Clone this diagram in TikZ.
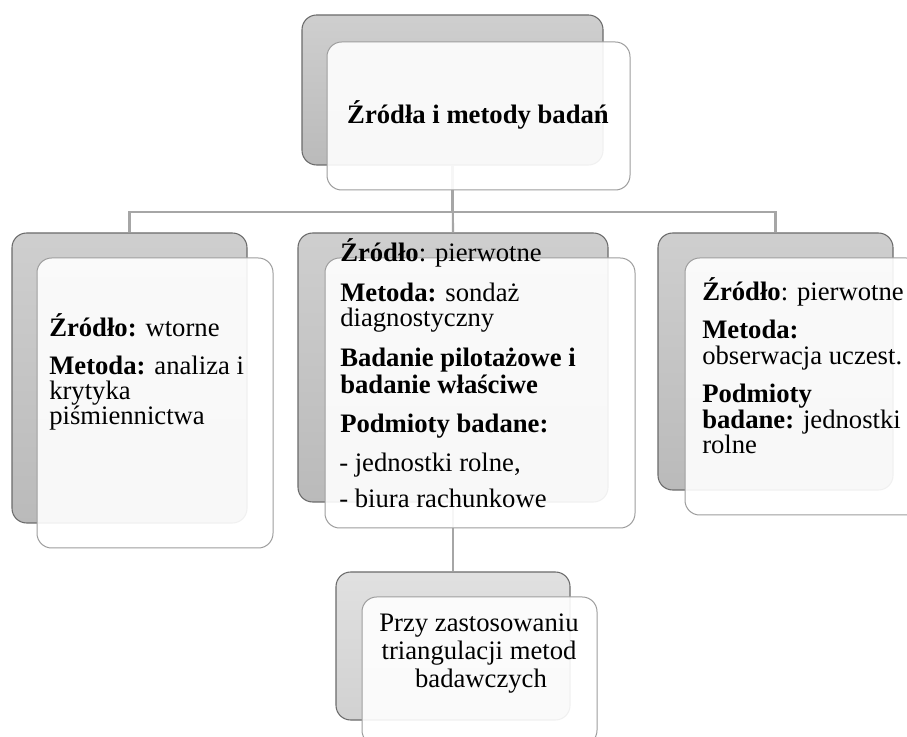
\documentclass[tikz,border=0pt]{standalone}
\usepackage{fontspec}
\setmainfont{Liberation Serif}
\usetikzlibrary{fit}
\begin{document}
\begin{tikzpicture}[x=0.75pt,y=-0.75pt,
  backbox/.style={draw=black!58, line width=0.8pt, rounded corners=11pt, inner sep=0pt,
    top color=black!19, bottom color=black!27},
  backlight/.style={backbox, top color=black!12, bottom color=black!18},
  frontbox/.style={draw=black!38, line width=0.75pt, rounded corners=11pt, inner sep=0pt,
    fill=white, fill opacity=0.9},
  conn/.style={draw=black!35, line width=1.6pt},
  txt/.style={inner sep=0pt, anchor=base west, text height=13.5pt, text depth=4pt,
    font=\fontsize{20}{24}\selectfont},
  ctxt/.style={txt, anchor=base},
]
\useasboundingbox (0,0) rectangle (907,737);
\clip (0,0) rectangle (907,737);
\fill[white] (0,0) rectangle (907,737);

% rear (grey) panels
\node[backbox,  fit={(302,15) (603,165)}]  (tb) {};
\node[backbox,  fit={(12,233) (247,523)}]  (lb) {};
\node[backbox,  fit={(298,233) (608,502)}] (mb) {};
\node[backbox,  fit={(658,233) (893,490)}] (rb) {};
\node[backlight,fit={(336,572) (570,720)}] (bb) {};

% connectors
\coordinate (bar) at (0,212);
\draw[conn] (tb.south) -- (tb.south |- bar) -| (lb.north);
\draw[conn] (tb.south |- bar) -| (rb.north);
\draw[conn] (tb.south) -- (mb.north);
\draw[conn] (mb.south) -- (bb.north);

% front (white) panels
\node[frontbox, fit={(327,42) (630,190)}]  (tf) {};
\node[frontbox, fit={(37,258) (273,548)}]  (lf) {};
\node[frontbox, fit={(325,258) (635,528)}] (mf) {};
\node[frontbox, fit={(685,258) (921,515)}] (rf) {};
\node[frontbox, fit={(362,597) (597,745)}] (bf) {};

% title
\node[ctxt] (title) at (478,124) {\textbf{Źródła i metody badań}};

% left panel text
\node[txt] (l1) at (49,337) {\textbf{Źródło:} wtorne};
\node[txt] (l2) at (49,375) {\textbf{Metoda:} analiza i};
\node[txt] (l3) at (49,400) {krytyka};
\node[txt] (l4) at (49,425) {piśmiennictwa};

% middle panel text
\node[txt] (m1) at (340,262) {\textbf{Źródło}: pierwotne};
\node[txt] (m2) at (340,302) {\textbf{Metoda:} sondaż};
\node[txt] (m3) at (340,327) {diagnostyczny};
\node[txt] (m4) at (340,367) {\textbf{Badanie pilotażowe i}};
\node[txt] (m5) at (340,394) {\textbf{badanie właściwe}};
\node[txt] (m6) at (340,433) {\textbf{Podmioty badane:}};
\node[txt] (m7) at (339,472) {- jednostki rolne,};
\node[txt] (m8) at (339,508) {- biura rachunkowe};

% right panel text
\node[txt] (r1) at (702,301) {\textbf{Źródło}: pierwotne};
\node[txt] (r2) at (702,339) {\textbf{Metoda:}};
\node[txt] (r3) at (702,365) {obserwacja uczest.};
\node[txt] (r4) at (702,403) {\textbf{Podmioty}};
\node[txt] (r5) at (702,429) {\textbf{badane:} jednostki};
\node[txt] (r6) at (702,454) {rolne};

% bottom panel text
\node[ctxt] (b1) at (479,632) {Przy zastosowaniu};
\node[ctxt] (b2) at (479,659) {triangulacji metod};
\node[ctxt] (b3) at (481,687) {badawczych};
\end{tikzpicture}
\end{document}
